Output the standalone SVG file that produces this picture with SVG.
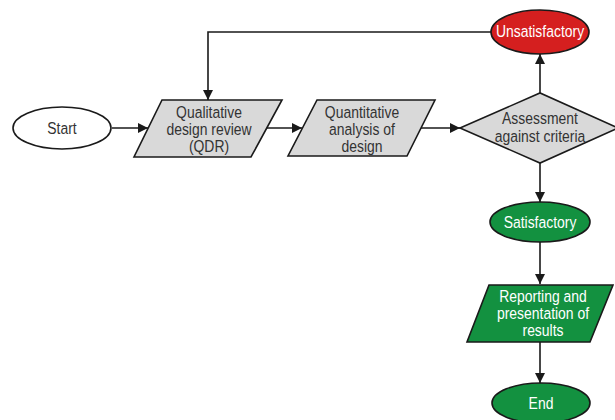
<svg xmlns="http://www.w3.org/2000/svg" width="615" height="420" viewBox="0 0 615 420">
<defs>
<marker id="ah" viewBox="0 0 10 10" refX="10" refY="5" markerWidth="10" markerHeight="10" markerUnits="userSpaceOnUse" orient="auto">
<path d="M0,0 L10,5 L0,10 Z" fill="#1a1a1a"/>
</marker>
<style>
.s{stroke:#1a1a1a;stroke-width:1.6}
.g{fill:#d9d9d9}
.gr{fill:#139140}
.rd{fill:#d51f1f}
.c{fill:none;stroke:#1a1a1a;stroke-width:1.6;marker-end:url(#ah)}
text{font-family:"Liberation Sans",Arial,sans-serif;font-size:17px;text-anchor:middle}
.w{fill:#fff}
.k{fill:#333}
</style>
</defs>
<rect width="615" height="420" fill="#fff"/>
<g id="connectors">
<path class="c" d="M112,128 H148"/>
<path class="c" d="M264,128 H302"/>
<path class="c" d="M418,128 H460"/>
<path class="c" d="M491,32 H208 V100"/>
<path class="c" d="M540,93 V54"/>
<path class="c" d="M540,163 V202"/>
<path class="c" d="M540,242 V284"/>
<path class="c" d="M540,342 V383"/>
</g>
<g id="start">
<ellipse class="s" cx="62" cy="128" rx="49" ry="21" fill="#fff"/>
<text class="k" transform="translate(62,134) scale(0.82,1)">Start</text>
</g>
<g id="qdr">
<polygon class="s g" points="162,100 282,100 251,157 134,157"/>
<text class="k" transform="translate(209,118) scale(0.82,1)">Qualitative</text>
<text class="k" transform="translate(209,135) scale(0.82,1)">design review</text>
<text class="k" transform="translate(209,152) scale(0.82,1)">(QDR)</text>
</g>
<g id="quant">
<polygon class="s g" points="317,100 435,100 407,156 288,156"/>
<text class="k" transform="translate(362,118) scale(0.82,1)">Quantitative</text>
<text class="k" transform="translate(362,135) scale(0.82,1)">analysis of</text>
<text class="k" transform="translate(362,152) scale(0.82,1)">design</text>
</g>
<g id="assess">
<polygon class="s g" points="460,128 540,93 618,128 540,163"/>
<text class="k" transform="translate(540,124) scale(0.82,1)">Assessment</text>
<text class="k" transform="translate(540,142) scale(0.82,1)">against criteria</text>
</g>
<g id="unsat">
<ellipse class="s rd" cx="540" cy="32" rx="49" ry="22"/>
<text class="w" transform="translate(540,37) scale(0.82,1)">Unsatisfactory</text>
</g>
<g id="sat">
<ellipse class="s gr" cx="540" cy="222" rx="50" ry="20"/>
<text class="w" transform="translate(540,228) scale(0.82,1)">Satisfactory</text>
</g>
<g id="report">
<polygon class="s gr" points="489,285 613,285 590,342 467,342"/>
<text class="w" transform="translate(543,302) scale(0.82,1)">Reporting and</text>
<text class="w" transform="translate(543,319) scale(0.82,1)">presentation of</text>
<text class="w" transform="translate(543,336) scale(0.82,1)">results</text>
</g>
<g id="end">
<ellipse class="s gr" cx="541" cy="403" rx="49" ry="20"/>
<text class="w" transform="translate(541,409) scale(0.82,1)">End</text>
</g>
</svg>
